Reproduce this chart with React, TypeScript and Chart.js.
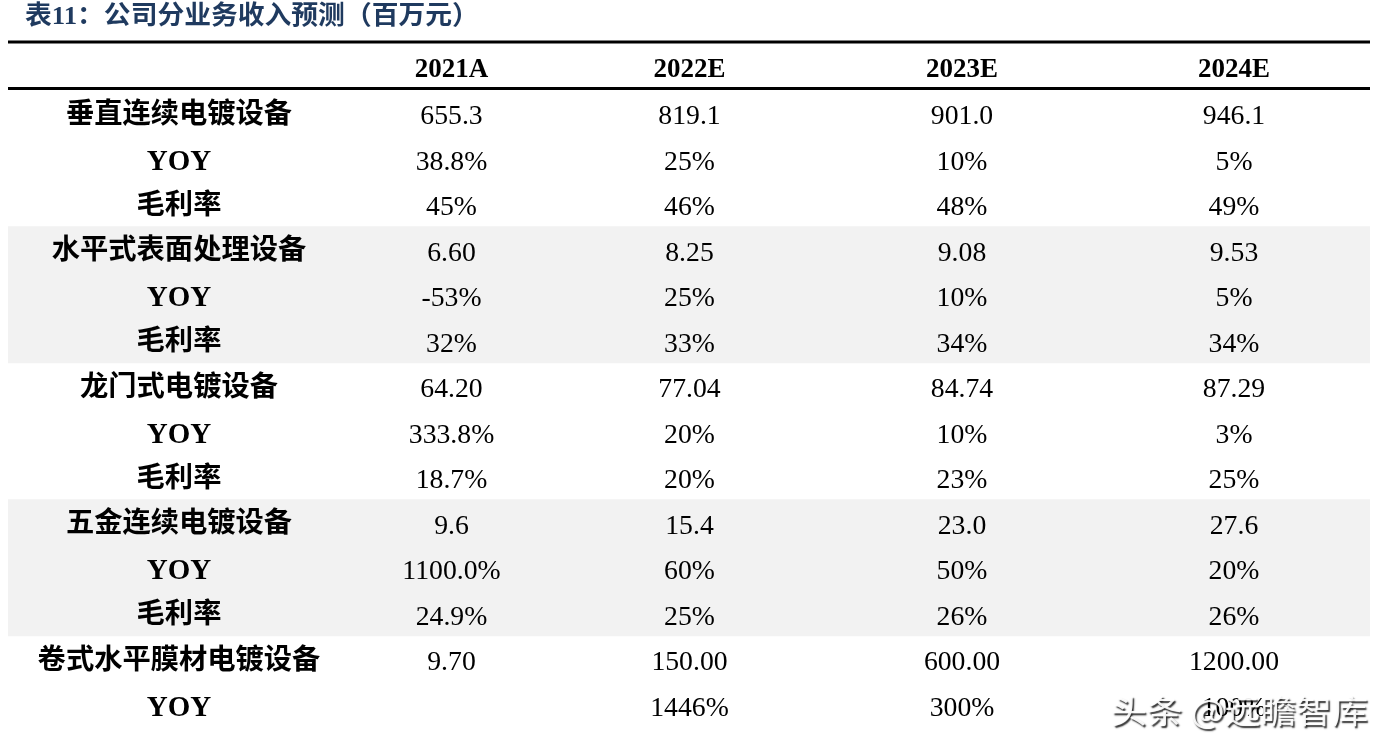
import React, { useEffect, useRef } from 'react';
import { Chart, registerables } from 'chart.js';

Chart.register(...registerables);

const TITLE = '表11：公司分业务收入预测（百万元）';
const YEARS = ['2021A', '2022E', '2023E', '2024E'];
const SEGMENTS = ['垂直连续电镀设备', '水平式表面处理设备', '龙门式电镀设备', '五金连续电镀设备', '卷式水平膜材电镀设备'];

const VERTICAL_REVENUE = ['655.3', '819.1', '901.0', '946.1'];
const VERTICAL_YOY = ['38.8%', '25%', '10%', '5%'];
const VERTICAL_MARGIN = ['45%', '46%', '48%', '49%'];
const HORIZONTAL_REVENUE = ['6.60', '8.25', '9.08', '9.53'];
const HORIZONTAL_YOY = ['-53%', '25%', '10%', '5%'];
const HORIZONTAL_MARGIN = ['32%', '33%', '34%', '34%'];
const GANTRY_REVENUE = ['64.20', '77.04', '84.74', '87.29'];
const GANTRY_YOY = ['333.8%', '20%', '10%', '3%'];
const GANTRY_MARGIN = ['18.7%', '20%', '23%', '25%'];
const HARDWARE_REVENUE = ['9.6', '15.4', '23.0', '27.6'];
const HARDWARE_YOY = ['1100.0%', '60%', '50%', '20%'];
const HARDWARE_MARGIN = ['24.9%', '25%', '26%', '26%'];
const ROLL_REVENUE = ['9.70', '150.00', '600.00', '1200.00'];
const ROLL_YOY = ['', '1446%', '300%', '100%'];
const SHADED_SEGMENTS = [1, 3];
const WATERMARK = '头条 @远瞻智库';

// relative column widths of the table (label column + 4 year columns)
const COLUMN_WEIGHTS = [342, 203, 273, 272, 272];
const TOTAL_WEIGHT = COLUMN_WEIGHTS.reduce((a, b) => a + b, 0);

type Row = { label: string; values: string[]; kind: 'segment' | 'yoy' | 'margin'; group: number };

const SEGMENT_TABLE: [string[], string[], string[] | null][] = [
  [VERTICAL_REVENUE, VERTICAL_YOY, VERTICAL_MARGIN],
  [HORIZONTAL_REVENUE, HORIZONTAL_YOY, HORIZONTAL_MARGIN],
  [GANTRY_REVENUE, GANTRY_YOY, GANTRY_MARGIN],
  [HARDWARE_REVENUE, HARDWARE_YOY, HARDWARE_MARGIN],
  [ROLL_REVENUE, ROLL_YOY, null],
];

const ROWS: Row[] = [];
SEGMENT_TABLE.forEach(([rev, yoy, margin], g) => {
  ROWS.push({ label: SEGMENTS[g], values: rev, kind: 'segment', group: g });
  ROWS.push({ label: 'YOY', values: yoy, kind: 'yoy', group: g });
  if (margin) ROWS.push({ label: '毛利率', values: margin, kind: 'margin', group: g });
});

const ROW_LABELS = ROWS.map((r) => r.label);
const BAND_DATA = ROWS.map((r) => (SHADED_SEGMENTS.includes(r.group) ? [0, TOTAL_WEIGHT] : null));

const SERIF_CJK = '"Liberation Serif", "Times New Roman", "Noto Sans CJK SC"';

function drawText(
  ctx: CanvasRenderingContext2D,
  str: string,
  x: number,
  y: number,
  font: string,
  color: string,
  sx = 1,
  align: CanvasTextAlign = 'center'
) {
  ctx.save();
  ctx.translate(x, y);
  ctx.scale(sx, 1);
  ctx.font = font;
  ctx.fillStyle = color;
  ctx.textAlign = align;
  ctx.textBaseline = 'middle';
  ctx.fillText(str, 0, 0);
  ctx.restore();
}

const tablePlugin = {
  id: 'tableText',
  afterDatasetsDraw(chart: any) {
    const ctx: CanvasRenderingContext2D = chart.ctx;
    const xs = chart.scales.x;
    const ys = chart.scales.y;
    const area = chart.chartArea;
    const centers: number[] = [];
    let acc = 0;
    COLUMN_WEIGHTS.forEach((w) => {
      centers.push(xs.getPixelForValue(acc + w / 2));
      acc += w;
    });
    const left = xs.getPixelForValue(0);
    const right = xs.getPixelForValue(TOTAL_WEIGHT);

    // title
    drawText(ctx, TITLE, 25, 17, `bold 26px ${SERIF_CJK}`, '#1f3a5f', 1.03, 'left');

    // rules
    ctx.save();
    ctx.strokeStyle = '#000';
    ctx.lineWidth = 3;
    ctx.beginPath();
    ctx.moveTo(left, area.top - 48);
    ctx.lineTo(right, area.top - 48);
    ctx.moveTo(left, area.top - 1.5);
    ctx.lineTo(right, area.top - 1.5);
    ctx.stroke();
    ctx.restore();

    // header
    YEARS.forEach((yr, i) => {
      drawText(ctx, yr, centers[i + 1], area.top - 20, `bold 27px ${SERIF_CJK}`, '#000');
    });

    // body
    ROWS.forEach((row, r) => {
      const cy = ys.getPixelForValue(r);
      if (row.kind === 'yoy') {
        drawText(ctx, row.label, centers[0], cy + 4, `bold 29px ${SERIF_CJK}`, '#000');
      } else {
        drawText(ctx, row.label, centers[0], cy + 3, `bold 28px ${SERIF_CJK}`, '#000', 1.01);
      }
      row.values.forEach((v, c) => {
        if (v) drawText(ctx, v, centers[c + 1], cy + 4, `28px ${SERIF_CJK}`, '#000', 0.99);
      });
    });

    // watermark
    const wy = ys.getPixelForValue(ROWS.length - 1) + 7;
    ctx.save();
    ctx.translate(right - 2, wy);
    ctx.scale(1.12, 1);
    ctx.font = '32px "Noto Sans CJK SC", sans-serif';
    ctx.textAlign = 'right';
    ctx.textBaseline = 'middle';
    ctx.shadowColor = 'rgba(0,0,0,0.9)';
    ctx.shadowOffsetX = 1.5;
    ctx.shadowOffsetY = 1.5;
    ctx.shadowBlur = 1.5;
    ctx.fillStyle = 'rgba(255,255,255,0.92)';
    ctx.fillText(WATERMARK, 0, 0);
    ctx.restore();
  },
};

export default function App() {
  const canvasRef = useRef<HTMLCanvasElement | null>(null);

  useEffect(() => {
    if (!canvasRef.current) return;
    const chart = new Chart(canvasRef.current, {
      type: 'bar',
      data: {
        labels: ROW_LABELS,
        datasets: [
          {
            data: BAND_DATA as any,
            backgroundColor: '#f2f2f2',
            borderWidth: 0,
            barPercentage: 1,
            categoryPercentage: 1,
          },
        ],
      },
      options: {
        indexAxis: 'y',
        responsive: false,
        animation: false,
        layout: { padding: { left: 8, right: 22, top: 90, bottom: 25 } },
        scales: {
          x: { type: 'linear', min: 0, max: TOTAL_WEIGHT, display: false },
          y: { type: 'category', display: false, offset: true },
        },
        plugins: {
          legend: { display: false },
          tooltip: { enabled: false },
          title: { display: false },
        },
      },
      plugins: [tablePlugin],
    });
    return () => chart.destroy();
  }, []);

  return (
    <div style={{ position: 'absolute', left: 0, top: 0, width: 1392, height: 752, background: '#fff' }}>
      <canvas ref={canvasRef} width={1392} height={752} style={{ display: 'block' }} />
    </div>
  );
}
